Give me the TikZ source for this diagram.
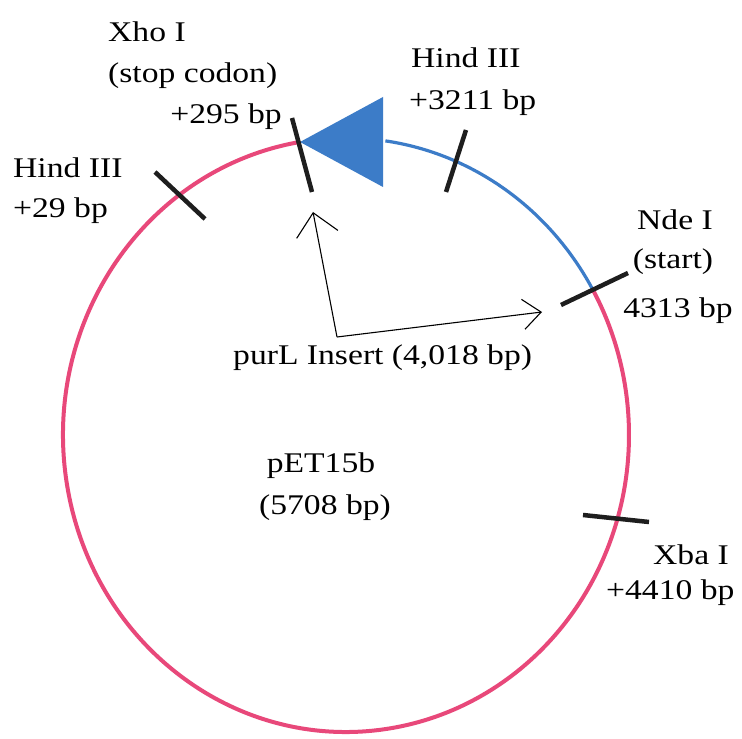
\documentclass[tikz,border=0pt]{standalone}
\usepackage{fontspec}
\setmainfont{Liberation Serif}[FakeStretch=1.18]
\usetikzlibrary{arrows.meta}
\definecolor{plasmid}{RGB}{232,72,122}
\definecolor{insertc}{RGB}{60,124,200}
\definecolor{tickc}{RGB}{30,30,30}
\begin{document}
\begin{tikzpicture}[x=1pt,y=1pt,
  lbl/.style={inner sep=0pt, font=\fontsize{28.5}{34}\selectfont},
  site/.style={draw=tickc, line width=4.5pt},
  ptrA/.style={draw=black, line width=1.1pt, -{Straight Barb[length=22pt,width=42pt,line width=1.1pt]}},
  ptrB/.style={draw=black, line width=1.1pt, -{Straight Barb[length=18pt,width=30pt,line width=1.1pt]}}]
\useasboundingbox (0,0) rectangle (742,739);
\fill[white] (0,0) rectangle (742,739);
\coordinate (c) at (346,304);
% plasmid backbone
\draw[plasmid, line width=4pt] (c) ++(99.4:283 and 297) arc[start angle=99.4, end angle=389.4, x radius=283, y radius=297];
% insert
\draw[insertc, line width=3.2pt] (c) ++(29.4:283 and 297) arc[start angle=29.4, end angle=82, x radius=283, y radius=297];
\fill[insertc] (300,597) -- (383,642) -- (383,552) -- cycle;
% restriction sites
\coordinate (hA1) at (155,567); \coordinate (hA2) at (205,520);
\coordinate (x1) at (292,621);  \coordinate (x2) at (312,547);
\coordinate (hB1) at (466,609); \coordinate (hB2) at (446,547);
\coordinate (n1) at (561,434);  \coordinate (n2) at (628,466);
\coordinate (b1) at (583,224);  \coordinate (b2) at (649,217);
\draw[site] (hA1) -- (hA2);
\draw[site] (x1) -- (x2);
\draw[site] (hB1) -- (hB2);
\draw[site] (n1) -- (n2);
\draw[site] (b1) -- (b2);
% insert extent arrows
\coordinate (corner) at (337,402);
\coordinate (insStart) at (313,527);
\coordinate (insEnd) at (542,427);
\draw[ptrA] (corner) -- (insStart);
\draw[ptrB] (corner) -- (insEnd);
% labels
\node[lbl, anchor=base west] (xho1) at (108,697) {Xho I};
\node[lbl, anchor=base west] (xho2) at (108,656) {(stop codon)};
\node[lbl, anchor=base east] (xho3) at (282,615) {+295 bp};
\node[lbl, anchor=base west] (hindA1) at (13,561) {Hind III};
\node[lbl, anchor=base west] (hindA2) at (13,521) {+29 bp};
\node[lbl, anchor=base west] (hindB1) at (411,671) {Hind III};
\node[lbl, anchor=base west] (hindB2) at (409,629) {+3211 bp};
\node[lbl, anchor=base] (nde1) at (675,509) {Nde I};
\node[lbl, anchor=base] (nde2) at (673,470) {(start)};
\node[lbl, anchor=base] (nde3) at (678,421) {4313 bp};
\node[lbl, anchor=base east] (xba1) at (729,174) {Xba I};
\node[lbl, anchor=base west] (xba2) at (606,139) {+4410 bp};
\node[lbl, anchor=base west] (purl) at (233,374) {purL Insert (4,018 bp)};
\node[lbl, anchor=base] (pet1) at (321,266) {pET15b};
\node[lbl, anchor=base] (pet2) at (325,224) {(5708 bp)};
\end{tikzpicture}
\end{document}
